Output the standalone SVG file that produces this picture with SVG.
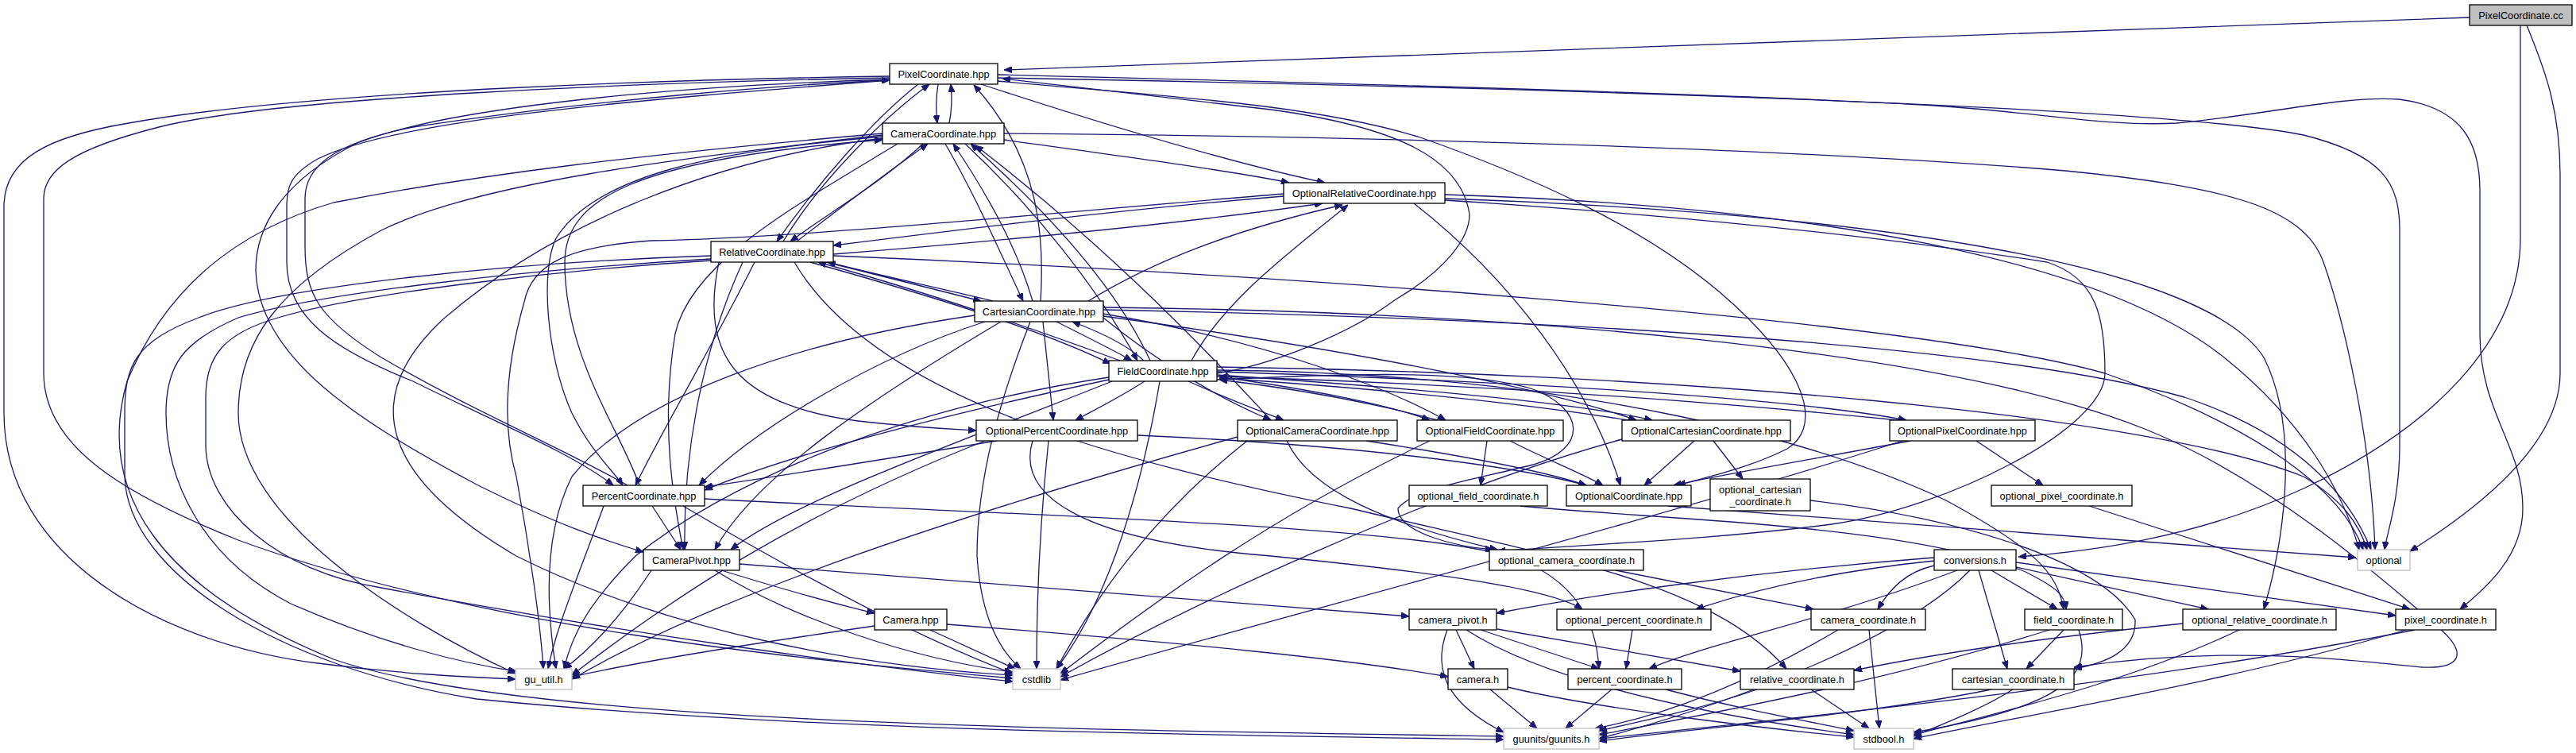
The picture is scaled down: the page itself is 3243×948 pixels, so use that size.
<svg xmlns="http://www.w3.org/2000/svg" width="3243" height="948" viewBox="0 0 3243 948">
<style>
.n rect{fill:#fff;stroke:#000;stroke-width:1.3}
.g rect{fill:#fff;stroke:#bfbfbf;stroke-width:1.3}
.s rect{fill:#bfbfbf;stroke:#000;stroke-width:1.3}
text{font-family:"Liberation Sans",Arial,Helvetica,sans-serif;font-size:12.8px;text-anchor:middle;fill:#000}
#edges path{fill:none;stroke:#191970;stroke-width:1.3;marker-end:url(#ah)}
</style>
<defs>
<marker id="ah" viewBox="0 0 10 8" refX="10" refY="4" markerWidth="10" markerHeight="8" markerUnits="userSpaceOnUse" orient="auto"><path d="M0,0 L10,4 L0,8 z" fill="#191970" stroke="#191970"/></marker>
</defs>
<rect width="3243" height="948" fill="#fff"/>
<g id="edges">
<path d="M3109,22 C2500,44 1800,68 1264,88"/>
<path d="M3173,32 L3173,300 C3173,430 3060,540 2900,615 C2760,680 2620,695 2541,701"/>
<path d="M3181,32 C3205,90 3223,140 3223,220 L3223,470 C3223,560 3120,640 3034,694"/>
<path d="M1181,106 C1178,125 1178,140 1180,155"/>
<path d="M1195,155 C1198,140 1199,125 1197,106"/>
<path d="M1156,106 C1100,150 1030,230 978,304"/>
<path d="M986,304 C1030,230 1110,150 1170,106"/>
<path d="M1162,181 C1110,230 1040,270 995,304"/>
<path d="M1003,304 C1060,260 1120,215 1168,181"/>
<path d="M1120,96 C900,99 400,112 162,155 C60,172 5,200 5,260 L5,520 C5,700 200,810 400,835 C500,848 580,852 649,855"/>
<path d="M1120,98 C800,104 350,122 200,160 C90,188 55,215 55,250 L55,470 C55,560 150,620 300,680 C600,790 1000,830 1275,854"/>
<path d="M1120,100 C800,110 550,140 450,180 C350,230 322,290 322,340 C325,450 450,530 600,610 C700,660 760,680 810,695"/>
<path d="M1120,101 C800,126 500,150 400,200 C365,220 361,235 361,260 L361,330 C361,400 420,440 520,480 C620,530 720,570 772,611"/>
<path d="M790,611 C700,560 600,520 480,450 C400,400 384,370 384,310 L384,250 C384,210 420,180 520,160 C750,125 1000,106 1120,101"/>
<path d="M1235,106 C1400,160 1550,205 1668,230"/>
<path d="M1256,98 C1800,108 2700,130 2900,170 C3000,195 3021,230 3021,290 L3021,560 C3021,630 3005,670 3002,692"/>
<path d="M1256,94 C1700,105 2200,120 2420,132 C2560,140 2650,160 2740,155 C2850,145 2950,120 3020,125 C3100,135 3122,180 3122,240 L3122,420 C3122,520 3176,560 3176,640 C3176,700 3130,740 3097,767"/>
<path d="M1532,470 C1600,460 1700,420 1757,377 C1820,340 1850,300 1850,270 C1840,200 1760,160 1600,138 C1450,120 1320,105 1262,99"/>
<path d="M1256,102 C1450,120 1650,130 1788,173 C1950,230 2100,300 2200,400 C2280,480 2290,540 2250,565 C2200,590 2150,600 2112,611"/>
<path d="M1264,168 C1800,172 2300,190 2600,215 C2800,235 2900,260 2925,330 C2950,400 2985,550 2990,692"/>
<path d="M1264,176 C1400,195 1550,215 1623,230"/>
<path d="M1310,379 C1315,300 1310,200 1226,107"/>
<path d="M1190,181 C1230,250 1260,320 1288,379"/>
<path d="M1300,379 C1280,310 1240,240 1200,181"/>
<path d="M1215,181 C1300,260 1380,360 1432,454"/>
<path d="M1448,454 C1400,350 1300,250 1222,181"/>
<path d="M1111,172 C900,190 750,220 700,300 C680,340 688,450 720,520 C745,570 770,590 784,611"/>
<path d="M805,611 C780,540 711,450 711,330 C711,250 800,200 1111,176"/>
<path d="M1111,168 C800,195 600,220 420,255 C300,290 210,360 160,480 C120,620 200,740 420,830 C650,910 1300,918 1893,927"/>
<path d="M1111,170 C850,200 600,230 480,290 C350,360 300,430 300,520 C300,650 500,780 649,848"/>
<path d="M1111,174 C900,200 700,280 560,400 C450,500 480,600 650,700 C850,800 1100,840 1275,850"/>
<path d="M1130,181 C1000,260 870,330 850,420 C830,540 850,640 860,692"/>
<path d="M1600,529 C1500,420 1380,300 1228,183"/>
<path d="M1040,330 C1120,350 1180,365 1235,379"/>
<path d="M1250,379 C1170,360 1100,345 1042,330"/>
<path d="M1020,330 C1200,380 1320,420 1398,458"/>
<path d="M1410,454 C1250,395 1120,355 1030,330"/>
<path d="M1049,320 C1300,300 1500,280 1665,256"/>
<path d="M1616,247 C1400,265 1200,290 1049,309"/>
<path d="M1616,244 C1300,270 1000,300 820,303 C720,310 670,330 660,380 C640,450 630,530 650,600 C665,680 680,780 684,842"/>
<path d="M950,330 C900,430 840,530 800,611"/>
<path d="M935,330 C880,450 860,580 862,692"/>
<path d="M895,322 C650,330 350,360 250,400 C170,430 157,460 157,520 L157,600 C160,720 350,840 600,880 C1000,920 1500,925 1893,931"/>
<path d="M895,326 C650,340 400,370 300,400 C230,430 209,460 209,520 C209,600 250,700 366,760 C480,810 580,835 650,845"/>
<path d="M895,328 C700,340 450,370 350,400 C280,420 259,450 259,500 L259,560 C259,640 350,720 480,740 C800,800 1100,840 1275,858"/>
<path d="M1049,322 C1600,345 2400,400 2650,470 C2850,540 2950,620 2975,692"/>
<path d="M1000,330 C1100,500 1400,580 1700,640 C1950,700 2150,730 2249,842"/>
<path d="M905,330 C880,450 930,510 1080,530 C1150,538 1190,540 1229,542"/>
<path d="M1780,256 C1900,350 2000,480 2040,611"/>
<path d="M1819,245 C2300,260 2650,330 2800,450 C2900,530 2950,620 2970,692"/>
<path d="M1819,250 C2400,270 2780,340 2850,450 C2900,550 2870,700 2850,767"/>
<path d="M1819,252 C2100,270 2350,295 2577,330 C2640,350 2650,400 2650,470 C2650,540 2450,640 2306,660 C2150,680 2000,685 1885,694"/>
<path d="M1330,405 C1370,425 1400,440 1425,454"/>
<path d="M1440,454 C1420,435 1390,420 1350,405"/>
<path d="M1313,405 C1318,450 1322,490 1326,529"/>
<path d="M1240,405 C1100,450 950,540 880,611"/>
<path d="M1260,405 C1100,500 950,600 900,692"/>
<path d="M1227,397 C1000,430 800,500 720,600 C680,680 690,780 700,842"/>
<path d="M1297,405 C1260,500 1230,600 1230,700 C1235,780 1260,820 1285,842"/>
<path d="M1370,379 C1450,330 1550,290 1690,258"/>
<path d="M1389,390 C1900,400 2500,430 2750,500 C2900,550 2960,630 2985,692"/>
<path d="M1389,400 C1450,450 1530,500 1600,529"/>
<path d="M1389,398 C1700,440 1950,490 2060,529"/>
<path d="M1389,395 C1600,430 1750,490 1820,529"/>
<path d="M1389,387 C1900,392 2450,440 2700,540 C2850,600 2990,720 3070,790 C3110,825 3095,842 3050,840 C2950,830 2800,812 2611,840"/>
<path d="M1441,480 C1410,500 1380,515 1354,529"/>
<path d="M1496,480 C1540,500 1580,515 1616,529"/>
<path d="M1532,474 C1650,490 1750,510 1800,529"/>
<path d="M1532,472 C1800,490 2000,510 2080,529"/>
<path d="M1532,468 C1900,480 2250,500 2400,529"/>
<path d="M1810,529 C1720,505 1620,488 1535,478"/>
<path d="M2050,529 C1900,505 1700,487 1535,476"/>
<path d="M2390,529 C2100,500 1800,482 1535,474"/>
<path d="M1500,454 C1540,380 1620,320 1697,258"/>
<path d="M1460,480 C1440,600 1400,750 1330,842"/>
<path d="M1396,475 C1100,520 900,620 800,700 C740,760 720,800 710,842"/>
<path d="M1396,478 C1200,520 1000,570 887,617"/>
<path d="M1400,480 C1200,560 1000,630 920,692"/>
<path d="M1532,466 C2000,470 2300,560 2450,630 C2560,690 2590,720 2598,767"/>
<path d="M1532,462 C2100,470 2700,520 2900,600 C2950,630 2970,660 2980,692"/>
<path d="M1532,478 C1700,470 1850,465 1930,490 C1995,515 2000,565 1930,585 C1850,605 1780,615 1760,640 C1760,670 1830,688 1880,692"/>
<path d="M1432,548 C1700,560 1900,585 1997,611"/>
<path d="M1255,555 C1100,580 980,600 887,613"/>
<path d="M1300,555 C1280,620 1350,680 1600,700 C1800,720 1950,740 1992,767"/>
<path d="M1240,555 C1000,650 850,750 720,850"/>
<path d="M1320,555 C1310,650 1305,750 1305,842"/>
<path d="M1720,555 C1850,575 1950,595 1997,611"/>
<path d="M1620,555 C1650,620 1750,660 1885,692"/>
<path d="M1558,550 C1200,650 900,750 720,855"/>
<path d="M1570,555 C1450,650 1380,750 1330,842"/>
<path d="M1901,555 C1950,580 1990,595 2018,611"/>
<path d="M1872,555 L1864,611"/>
<path d="M1800,555 C1600,650 1450,760 1335,848"/>
<path d="M2133,555 L2070,611"/>
<path d="M2157,555 L2194,603"/>
<path d="M2042,553 C1800,620 1500,760 1335,852"/>
<path d="M2405,555 C2300,575 2180,595 2107,611"/>
<path d="M2488,555 L2572,611"/>
<path d="M2395,555 C2100,650 1600,780 1335,856"/>
<path d="M821,637 L857,692"/>
<path d="M760,637 C730,720 700,790 690,842"/>
<path d="M860,637 C1000,720 1150,800 1275,848"/>
<path d="M887,628 C1300,650 1750,660 1900,700 C1990,730 2010,790 2013,842"/>
<path d="M908,718 C980,740 1050,760 1101,772"/>
<path d="M900,718 C1000,780 1150,830 1275,846"/>
<path d="M820,718 C780,780 740,820 710,842"/>
<path d="M931,710 C1300,740 1600,760 1774,776"/>
<path d="M1171,793 L1278,842"/>
<path d="M1101,788 C950,810 820,830 720,852"/>
<path d="M1192,786 C1500,810 1700,830 1823,852"/>
<path d="M2507,718 L2590,767"/>
<path d="M2491,718 L2527,842"/>
<path d="M2538,714 L2780,767"/>
<path d="M2538,708 L3016,775"/>
<path d="M2435,712 C2400,720 2380,740 2364,767"/>
<path d="M2464,718 C2300,780 2150,810 2076,842"/>
<path d="M2435,706 C2300,720 2200,745 2135,767"/>
<path d="M2435,702 C2200,720 2000,750 1884,772"/>
<path d="M2480,718 C2400,800 2200,880 2013,930"/>
<path d="M2100,637 C2400,660 2700,680 2966,702"/>
<path d="M2034,718 L2283,767"/>
<path d="M1914,637 C2100,655 2400,660 2550,720 C2590,740 2600,750 2601,767"/>
<path d="M2279,630 C2450,650 2640,700 2688,780 C2690,820 2650,835 2611,842"/>
<path d="M2630,637 L3034,767"/>
<path d="M2748,785 C2600,800 2450,820 2334,844"/>
<path d="M2819,793 C2700,850 2550,890 2409,925"/>
<path d="M3040,793 C2700,860 2300,900 2013,930"/>
<path d="M3029,793 C2800,860 2550,900 2409,930"/>
<path d="M2598,793 L2551,842"/>
<path d="M2617,793 C2635,850 2600,890 2409,922"/>
<path d="M2580,793 C2400,850 2200,890 2013,925"/>
<path d="M2507,868 C2350,900 2150,915 2013,933"/>
<path d="M2534,868 C2500,890 2450,910 2409,927"/>
<path d="M1885,792 L2191,845"/>
<path d="M2353,793 L2366,917"/>
<path d="M2314,793 C2200,860 2100,900 2008,917"/>
<path d="M2212,868 C2150,890 2080,905 2013,920"/>
<path d="M2280,868 L2353,917"/>
<path d="M2029,868 L1971,917"/>
<path d="M2097,868 C2180,890 2260,905 2334,920"/>
<path d="M1876,868 L1935,917"/>
<path d="M1898,865 C2000,890 2200,915 2334,928"/>
<path d="M1833,793 L1856,842"/>
<path d="M1864,793 L2013,842"/>
<path d="M1822,793 C1800,850 1830,890 1893,922"/>
<path d="M1846,793 C1950,860 2150,900 2334,925"/>
<path d="M2055,793 L2047,842"/>
</g>
<g id="n_pccc" class="s"><rect x="3109" y="6" width="129" height="26"/><text x="3173.5" y="24">PixelCoordinate.cc</text></g>
<g id="n_p" class="n"><rect x="1120" y="80" width="136" height="26"/><text x="1188" y="98">PixelCoordinate.hpp</text></g>
<g id="n_c" class="n"><rect x="1111" y="155" width="153" height="26"/><text x="1187.5" y="173">CameraCoordinate.hpp</text></g>
<g id="n_or" class="n"><rect x="1616" y="230" width="203" height="26"/><text x="1717.5" y="248">OptionalRelativeCoordinate.hpp</text></g>
<g id="n_r" class="n"><rect x="895" y="304" width="154" height="26"/><text x="972" y="322">RelativeCoordinate.hpp</text></g>
<g id="n_ca" class="n"><rect x="1227" y="379" width="162" height="26"/><text x="1308" y="397">CartesianCoordinate.hpp</text></g>
<g id="n_f" class="n"><rect x="1396" y="454" width="136" height="26"/><text x="1464" y="472">FieldCoordinate.hpp</text></g>
<g id="n_opc" class="n"><rect x="1229" y="529" width="203" height="26"/><text x="1330.5" y="547">OptionalPercentCoordinate.hpp</text></g>
<g id="n_oc" class="n"><rect x="1558" y="529" width="201" height="26"/><text x="1658.5" y="547">OptionalCameraCoordinate.hpp</text></g>
<g id="n_of" class="n"><rect x="1784" y="529" width="184" height="26"/><text x="1876" y="547">OptionalFieldCoordinate.hpp</text></g>
<g id="n_oca" class="n"><rect x="2042" y="529" width="212" height="26"/><text x="2148" y="547">OptionalCartesianCoordinate.hpp</text></g>
<g id="n_op" class="n"><rect x="2379" y="529" width="183" height="26"/><text x="2470.5" y="547">OptionalPixelCoordinate.hpp</text></g>
<g id="n_pc" class="n"><rect x="734" y="611" width="153" height="26"/><text x="810.5" y="629">PercentCoordinate.hpp</text></g>
<g id="n_oco" class="n"><rect x="1972" y="611" width="157" height="26"/><text x="2050.5" y="629">OptionalCoordinate.hpp</text></g>
<g id="n_ofh" class="n"><rect x="1774" y="611" width="174" height="26"/><text x="1861" y="629">optional_field_coordinate.h</text></g>
<g id="n_och" class="n"><rect x="2153" y="603" width="126" height="40"/><text x="2216" y="621">optional_cartesian</text><text x="2216" y="636">_coordinate.h</text></g>
<g id="n_oph" class="n"><rect x="2507" y="611" width="177" height="26"/><text x="2595.5" y="629">optional_pixel_coordinate.h</text></g>
<g id="n_pv" class="n"><rect x="810" y="692" width="121" height="26"/><text x="870.5" y="710">CameraPivot.hpp</text></g>
<g id="n_ocamh" class="n"><rect x="1875" y="692" width="194" height="26"/><text x="1972" y="710">optional_camera_coordinate.h</text></g>
<g id="n_conv" class="n"><rect x="2435" y="692" width="103" height="26"/><text x="2486.5" y="710">conversions.h</text></g>
<g id="n_optional" class="g"><rect x="2968" y="692" width="66" height="26"/><text x="3001" y="710">optional</text></g>
<g id="n_cm" class="n"><rect x="1101" y="767" width="91" height="26"/><text x="1146.5" y="785">Camera.hpp</text></g>
<g id="n_pivh" class="n"><rect x="1774" y="767" width="110" height="26"/><text x="1829" y="785">camera_pivot.h</text></g>
<g id="n_opcth" class="n"><rect x="1960" y="767" width="194" height="26"/><text x="2057" y="785">optional_percent_coordinate.h</text></g>
<g id="n_camh" class="n"><rect x="2280" y="767" width="144" height="26"/><text x="2352" y="785">camera_coordinate.h</text></g>
<g id="n_fieldh" class="n"><rect x="2549" y="767" width="123" height="26"/><text x="2610.5" y="785">field_coordinate.h</text></g>
<g id="n_orelh" class="n"><rect x="2748" y="767" width="193" height="26"/><text x="2844.5" y="785">optional_relative_coordinate.h</text></g>
<g id="n_pixh" class="n"><rect x="3016" y="767" width="126" height="26"/><text x="3079" y="785">pixel_coordinate.h</text></g>
<g id="n_gu" class="g"><rect x="649" y="842" width="71" height="26"/><text x="684.5" y="860">gu_util.h</text></g>
<g id="n_cstd" class="g"><rect x="1275" y="842" width="60" height="26"/><text x="1305" y="860">cstdlib</text></g>
<g id="n_camerah" class="n"><rect x="1823" y="842" width="75" height="26"/><text x="1860.5" y="860">camera.h</text></g>
<g id="n_pcth" class="n"><rect x="1974" y="842" width="143" height="26"/><text x="2045.5" y="860">percent_coordinate.h</text></g>
<g id="n_relh" class="n"><rect x="2191" y="842" width="143" height="26"/><text x="2262.5" y="860">relative_coordinate.h</text></g>
<g id="n_carth" class="n"><rect x="2458" y="842" width="153" height="26"/><text x="2534.5" y="860">cartesian_coordinate.h</text></g>
<g id="n_guunits" class="g"><rect x="1893" y="917" width="120" height="26"/><text x="1953" y="935">guunits/guunits.h</text></g>
<g id="n_stdbool" class="g"><rect x="2334" y="917" width="75" height="26"/><text x="2371.5" y="935">stdbool.h</text></g>
</svg>
